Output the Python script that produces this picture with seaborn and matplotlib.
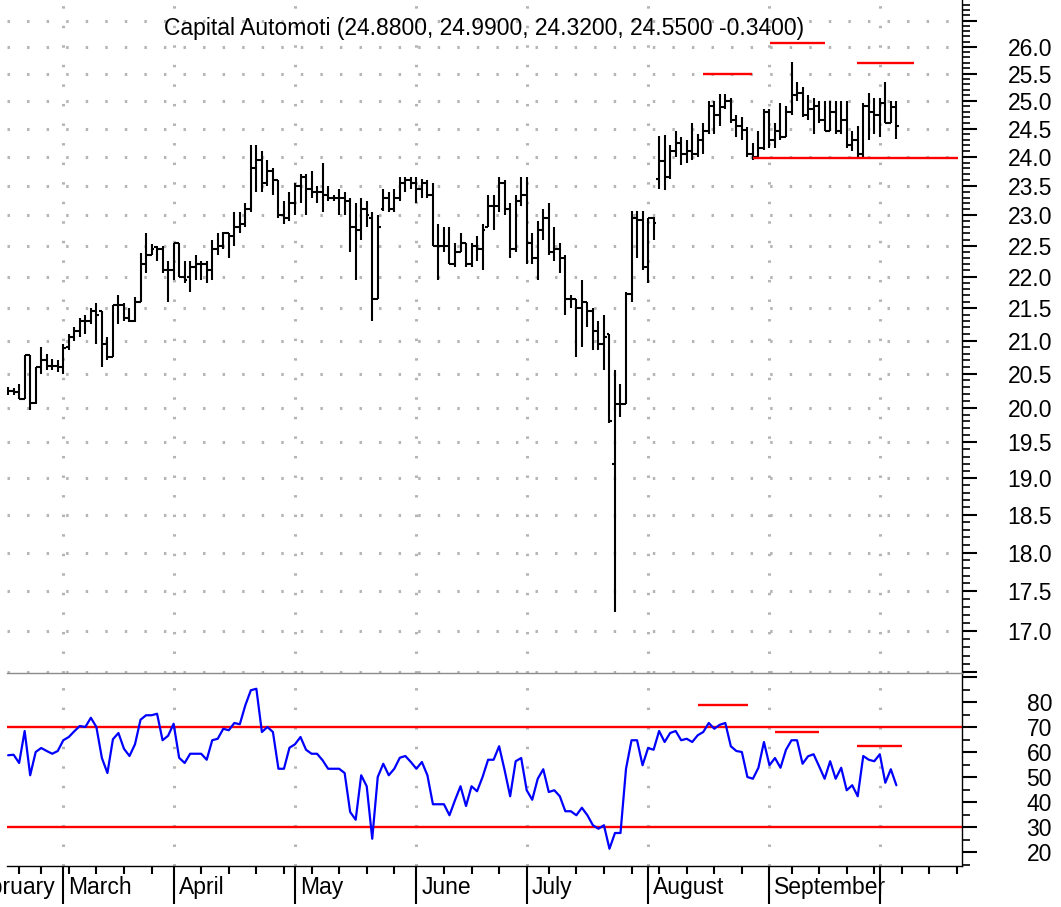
import numpy as np
import pandas as pd
import matplotlib
matplotlib.use("Agg")
import matplotlib.pyplot as plt
import matplotlib.ticker as mticker
import matplotlib.transforms as mtrans
import seaborn as sns

title = "Capital Automoti (24.8800, 24.9900, 24.3200, 24.5500 -0.3400)"
first_day = "2002-02-14"
axis_end_day = "2002-10-25"
holidays = ["2002-02-18", "2002-03-29", "2002-05-27", "2002-07-04", "2002-09-02"]

opens = [20.25, 20.25, 20.23, 20.13, 20.78, 20.07, 20.60, 20.70, 20.62, 20.62,
         20.60, 20.90, 21.05, 21.15, 21.30, 21.30, 21.45, 21.45, 20.95, 20.75,
         21.55, 21.55, 21.35, 21.30, 21.60, 22.20, 22.35, 22.48, 22.45, 22.10,
         22.10, 22.55, 22.00, 22.00, 22.15, 22.20, 22.20, 22.10, 22.45, 22.50,
         22.70, 22.65, 22.80, 22.85, 23.10, 23.80, 23.95, 23.55, 23.75, 23.60,
         23.00, 22.95, 23.20, 23.50, 23.65, 23.45, 23.40, 23.40, 23.35, 23.30,
         23.30, 23.30, 23.25, 22.80, 22.75, 23.10, 22.95, 21.65, 23.10, 23.30,
         23.10, 23.30, 23.55, 23.60, 23.55, 23.45, 23.55, 23.35, 22.50, 22.50,
         22.50, 22.20, 22.40, 22.55, 22.20, 22.50, 22.45, 22.80, 23.15, 23.15,
         23.55, 23.10, 22.45, 23.25, 23.35, 22.55, 22.30, 22.75, 22.95, 22.40,
         22.45, 22.30, 21.65, 21.65, 21.50, 21.60, 21.45, 21.15, 20.95, 21.10,
         19.19, 20.05, 20.05, 21.72, 22.95, 22.92, 22.15, 22.95, 23.62, 23.92,
         23.65, 24.10, 24.25, 24.05, 24.10, 24.05, 24.30, 24.45, 24.90, 24.75,
         24.88, 25.00, 24.65, 24.55, 24.48, 24.05, 24.00, 24.15, 24.80, 24.30,
         24.45, 24.35, 24.80, 25.10, 25.15, 24.75, 24.85, 24.90, 24.65, 24.45,
         24.80, 24.45, 24.65, 24.20, 24.30, 24.05, 24.90, 24.80, 24.75, 24.95,
         24.60, 24.88]

highs = [20.30, 20.28, 20.35, 20.78, 20.78, 20.60, 20.90, 20.80, 20.72, 20.70,
         20.95, 21.10, 21.20, 21.35, 21.40, 21.50, 21.58, 21.45, 21.05, 21.55,
         21.70, 21.58, 21.50, 21.68, 22.38, 22.70, 22.52, 22.50, 22.50, 22.25,
         22.55, 22.55, 22.25, 22.25, 22.35, 22.25, 22.25, 22.60, 22.70, 22.72,
         22.70, 23.05, 23.05, 23.20, 24.20, 24.20, 24.10, 23.95, 23.80, 23.60,
         23.25, 23.40, 23.55, 23.70, 23.70, 23.75, 23.50, 23.90, 23.50, 23.35,
         23.45, 23.40, 23.30, 23.20, 23.30, 23.25, 23.05, 23.00, 23.45, 23.40,
         23.45, 23.65, 23.65, 23.65, 23.65, 23.62, 23.60, 23.55, 22.85, 22.80,
         22.80, 22.55, 22.70, 22.55, 22.55, 22.65, 22.85, 23.35, 23.35, 23.65,
         23.60, 23.20, 23.35, 23.65, 23.65, 22.70, 22.90, 23.10, 23.20, 22.80,
         22.55, 22.35, 21.70, 21.65, 21.95, 21.60, 21.50, 21.30, 21.40, 21.10,
         20.55, 20.35, 21.75, 23.08, 23.08, 23.08, 22.95, 22.98, 24.36, 24.38,
         24.20, 24.45, 24.35, 24.30, 24.60, 24.40, 24.60, 25.00, 25.00, 25.12,
         25.12, 25.05, 24.75, 24.70, 24.52, 24.25, 24.45, 24.85, 24.85, 24.60,
         24.95, 24.90, 25.72, 25.35, 25.25, 25.10, 25.05, 25.00, 25.00, 25.00,
         25.00, 25.00, 25.00, 24.45, 24.55, 24.95, 25.15, 25.05, 25.05, 25.35,
         25.00, 24.99]

lows = [20.18, 20.18, 20.13, 20.13, 19.96, 20.05, 20.50, 20.55, 20.55, 20.52,
        20.50, 20.85, 21.00, 21.05, 21.10, 21.25, 20.95, 20.60, 20.70, 20.75,
        21.25, 21.30, 21.28, 21.28, 21.60, 22.05, 22.35, 22.25, 22.05, 21.60,
        21.95, 22.00, 21.90, 21.75, 21.95, 21.95, 21.90, 21.95, 22.35, 22.45,
        22.30, 22.50, 22.70, 22.80, 23.05, 23.40, 23.40, 23.50, 23.35, 22.95,
        22.85, 22.90, 23.00, 23.20, 23.00, 23.30, 23.20, 23.05, 23.25, 23.25,
        23.00, 23.00, 22.40, 21.95, 22.60, 22.80, 21.30, 21.65, 23.08, 23.05,
        23.05, 23.25, 23.40, 23.45, 23.20, 23.30, 23.30, 22.50, 21.95, 22.40,
        22.20, 22.15, 22.40, 22.15, 22.15, 22.25, 22.10, 22.80, 22.75, 23.05,
        23.00, 22.30, 22.40, 23.15, 22.20, 22.20, 21.95, 22.60, 22.35, 22.25,
        22.05, 21.40, 21.50, 20.75, 20.90, 21.20, 20.85, 20.85, 20.55, 19.78,
        17.24, 19.87, 20.05, 21.60, 22.30, 22.10, 21.90, 22.60, 23.45, 23.43,
        23.62, 24.00, 23.85, 23.90, 23.95, 24.00, 24.05, 24.40, 24.40, 24.55,
        24.85, 24.60, 24.35, 24.30, 24.00, 23.95, 23.98, 24.12, 24.15, 24.15,
        24.30, 24.35, 24.75, 25.00, 24.70, 24.65, 24.40, 24.60, 24.45, 24.45,
        24.40, 24.40, 24.15, 24.10, 24.00, 24.00, 24.30, 24.40, 24.35, 24.60,
        24.60, 24.32]

closes = [20.25, 20.23, 20.13, 20.78, 20.07, 20.60, 20.70, 20.62, 20.62, 20.60,
          20.88, 21.05, 21.15, 21.30, 21.30, 21.45, 21.40, 20.95, 20.75, 21.55,
          21.55, 21.35, 21.30, 21.60, 22.20, 22.35, 22.45, 22.45, 22.10, 22.10,
          22.55, 22.00, 21.95, 22.15, 22.20, 22.20, 22.10, 22.45, 22.50, 22.70,
          22.65, 22.80, 22.85, 23.10, 23.80, 23.95, 23.55, 23.75, 23.60, 23.00,
          22.95, 23.20, 23.50, 23.65, 23.45, 23.40, 23.40, 23.35, 23.30, 23.30,
          23.30, 23.25, 22.80, 22.75, 23.10, 23.00, 21.65, 22.80, 23.30, 23.10,
          23.30, 23.55, 23.60, 23.55, 23.45, 23.55, 23.35, 22.50, 22.50, 22.50,
          22.20, 22.40, 22.55, 22.20, 22.50, 22.45, 22.75, 23.15, 23.15, 23.55,
          23.10, 22.45, 23.25, 23.35, 22.55, 22.30, 22.75, 22.95, 22.40, 22.45,
          22.30, 21.65, 21.65, 21.50, 21.60, 21.45, 21.15, 20.95, 21.05, 19.80,
          20.05, 20.05, 21.72, 22.95, 22.92, 22.15, 22.95, 22.87, 23.92, 23.65,
          24.10, 24.25, 24.05, 24.10, 24.05, 24.30, 24.45, 24.90, 24.75, 24.88,
          25.00, 24.65, 24.55, 24.48, 24.05, 24.00, 24.15, 24.80, 24.30, 24.45,
          24.35, 24.80, 25.10, 25.15, 24.75, 24.85, 24.90, 24.65, 24.45, 24.80,
          24.45, 24.65, 24.20, 24.30, 24.05, 24.90, 24.80, 24.75, 24.95, 24.60,
          24.89, 24.55]

rsi = [58.7, 58.9, 55.6, 68.4, 50.7, 60.0, 61.6, 60.4, 59.3, 60.4,
       64.7, 66.0, 68.3, 70.4, 70.0, 73.7, 70.0, 57.6, 51.6, 65.1,
       67.6, 61.3, 58.4, 63.1, 72.9, 74.7, 74.7, 75.3, 64.7, 66.5,
       71.3, 57.7, 55.6, 59.3, 59.3, 59.3, 56.9, 64.7, 65.3, 69.3,
       68.7, 71.6, 71.1, 78.7, 84.7, 85.3, 68.0, 70.0, 68.0, 53.3,
       53.3, 61.7, 63.1, 66.0, 60.9, 59.3, 59.3, 56.7, 53.3, 53.3,
       53.3, 51.6, 36.0, 32.9, 50.7, 46.3, 25.3, 50.0, 55.3, 50.7,
       53.3, 57.7, 58.4, 56.0, 53.3, 56.0, 50.7, 39.1, 39.1, 39.1,
       34.7, 40.7, 46.3, 38.4, 46.3, 44.3, 50.0, 56.9, 56.9, 62.3,
       52.7, 42.3, 56.3, 57.6, 44.7, 40.9, 49.3, 53.1, 44.0, 44.7,
       42.3, 36.3, 36.3, 34.7, 37.7, 34.7, 30.7, 29.3, 30.7, 21.3,
       27.6, 27.6, 53.3, 64.7, 64.7, 54.7, 61.6, 60.9, 68.4, 64.0,
       67.6, 68.4, 64.7, 65.3, 64.0, 66.7, 68.0, 71.6, 69.3, 70.9,
       71.6, 62.3, 60.4, 60.0, 50.0, 49.3, 53.7, 64.0, 54.7, 57.6,
       53.7, 60.9, 64.7, 64.7, 55.3, 58.3, 59.1, 54.3, 49.3, 56.3,
       49.3, 53.7, 44.7, 46.7, 42.3, 58.4, 56.9, 56.3, 59.1, 47.7,
       53.1, 46.7]

# hand drawn red levels: (start day, end day, level)
price_marks = [(126.0, 134.8, 25.50), (138.1, 148.0, 26.08),
               (153.9, 164.2, 25.70), (135.0, 172.2, 23.98)]
rsi_marks = [(125.0, 134.1, 78.8), (139.0, 147.0, 68.1), (153.9, 162.0, 62.4)]
rsi_bands = [70, 30]

price_ticks = np.round(np.arange(16.5, 26.51, 0.5), 1)
price_labels = ["" if (t < 17 or t > 26) else f"{t:.1f}" for t in price_ticks]
rsi_ticks = [20, 30, 40, 50, 60, 70, 80, 90]
rsi_labels = ["20", "30", "40", "50", "60", "70", "80", ""]

sns.set_style("white")
plt.rcParams["font.family"] = ["Liberation Sans", "DejaVu Sans"]
plt.rcParams["text.color"] = "black"
plt.rcParams["xtick.color"] = "black"
plt.rcParams["ytick.color"] = "black"

days = pd.bdate_range(first_day, axis_end_day, freq="C", holidays=holidays)
feb_days = pd.bdate_range("2002-02-01", first_day, freq="C", holidays=holidays)
x = np.arange(len(closes))

month_pos = [-(len(feb_days) - 1)]
month_txt = ["February"]
for i in range(1, len(days)):
    if days[i].month != days[i - 1].month:
        month_pos.append(i)
        month_txt.append(days[i].strftime("%B"))
week_pos = [i for i in range(1, len(days)) if days[i].weekday() < days[i - 1].weekday()]
month_ticks = [p for p in month_pos if p >= 0]

fig = plt.figure(figsize=(10.61, 9.07), dpi=100)
ax = fig.add_axes([7 / 1061, 234 / 907, 955 / 1061, 673 / 907])
ax2 = fig.add_axes([7 / 1061, 41 / 907, 955 / 1061, 193 / 907])

xlim = (-0.2, 172.9)
dot = (0, (0.8, 5.6))
grid_c = "#b5b5b5"

# ---- price panel
ax.set_yscale("log")
ax.set_xlim(*xlim)
ax.set_ylim(16.49, 26.9)
ax.hlines(price_ticks, xlim[0], xlim[1], colors=grid_c, linestyles=[dot], lw=2.2, zorder=0)
ax.vlines(month_ticks, 16.49, 26.9, colors=grid_c, linestyles=[dot], lw=2.2, zorder=0)

ax.vlines(x, lows, highs, colors="black", lw=1.5)
ax.hlines(opens, x - 0.5, x, colors="black", lw=1.5)
ax.hlines(closes, x, x + 0.5, colors="black", lw=1.5)
for s, e, lvl in price_marks:
    ax.hlines(lvl, s, e, colors="red", lw=1.7, zorder=3)

ax.text(0.5, 1 - 28 / 673, title, transform=ax.transAxes, ha="center", va="center", fontsize=16.5)

ax.yaxis.set_major_locator(mticker.FixedLocator(price_ticks))
ax.yaxis.set_major_formatter(mticker.FixedFormatter(price_labels))
ax.yaxis.set_minor_locator(mticker.FixedLocator(np.round(np.arange(16.5, 26.9, 0.1), 1)))
ax.yaxis.set_minor_formatter(mticker.NullFormatter())
ax.tick_params(axis="y", which="both", left=False, right=True, labelleft=False,
               labelright=True, direction="out", color="black")
ax.tick_params(axis="y", which="major", length=10.8, width=1.5, pad=54, labelsize=16.5)
ax.tick_params(axis="y", which="minor", length=5.8, width=1.2)
plt.setp(ax.get_yticklabels(), ha="right")
ax.set_xticks([])
for side in ["top", "left", "bottom"]:
    ax.spines[side].set_visible(False)
ax.spines["right"].set_color("black")
ax.spines["right"].set_linewidth(1.0)

# ---- rsi panel
ax2.set_xlim(*xlim)
ax2.set_ylim(14.4, 91.6)
ax2.vlines(month_ticks, 14.4, 91.6, colors=grid_c, linestyles=[dot], lw=2.2, zorder=0)
for b in rsi_bands:
    ax2.axhline(b, color="red", lw=1.7, zorder=2)
for s, e, lvl in rsi_marks:
    ax2.hlines(lvl, s, e, colors="red", lw=1.7, zorder=2)
sns.lineplot(x=x, y=rsi, ax=ax2, color="#0000ff", linewidth=1.6, zorder=3)
ax2.set_xlabel("")
ax2.set_ylabel("")

ax2.yaxis.set_major_locator(mticker.FixedLocator(rsi_ticks))
ax2.yaxis.set_major_formatter(mticker.FixedFormatter(rsi_labels))
ax2.yaxis.set_minor_locator(mticker.FixedLocator([15, 25, 35, 45, 55, 65, 75, 85]))
ax2.tick_params(axis="y", which="both", left=False, right=True, labelleft=False,
                labelright=True, direction="out", color="black")
ax2.tick_params(axis="y", which="major", length=10.8, width=1.5, pad=54, labelsize=16.5)
ax2.tick_params(axis="y", which="minor", length=5.8, width=1.2)
plt.setp(ax2.get_yticklabels(), ha="right")

ax2.xaxis.set_major_locator(mticker.FixedLocator(month_ticks))
ax2.xaxis.set_minor_locator(mticker.FixedLocator(week_pos))
ax2.xaxis.set_major_formatter(mticker.NullFormatter())
ax2.tick_params(axis="x", which="both", bottom=True, top=False, direction="out", color="black")
ax2.tick_params(axis="x", which="major", length=27, width=1.5)
ax2.tick_params(axis="x", which="minor", length=6, width=1.5)

# month names sit right of their tick; a month that only just began gets no name
tr = mtrans.blended_transform_factory(ax2.transData, ax2.transAxes)
for p, name in zip(month_pos, month_txt):
    if p < len(closes) - 5:
        ax2.text(p + 0.9, -0.109, name, transform=tr, ha="left", va="center",
                 fontsize=16.5, clip_on=False)

ax2.spines["left"].set_visible(False)
ax2.spines["top"].set_color("#8a8a8a")
ax2.spines["top"].set_linewidth(1.0)
ax2.spines["right"].set_color("black")
ax2.spines["bottom"].set_color("black")
ax2.spines["right"].set_linewidth(1.0)
ax2.spines["bottom"].set_linewidth(1.0)

fig.savefig("out.png", dpi=100)
